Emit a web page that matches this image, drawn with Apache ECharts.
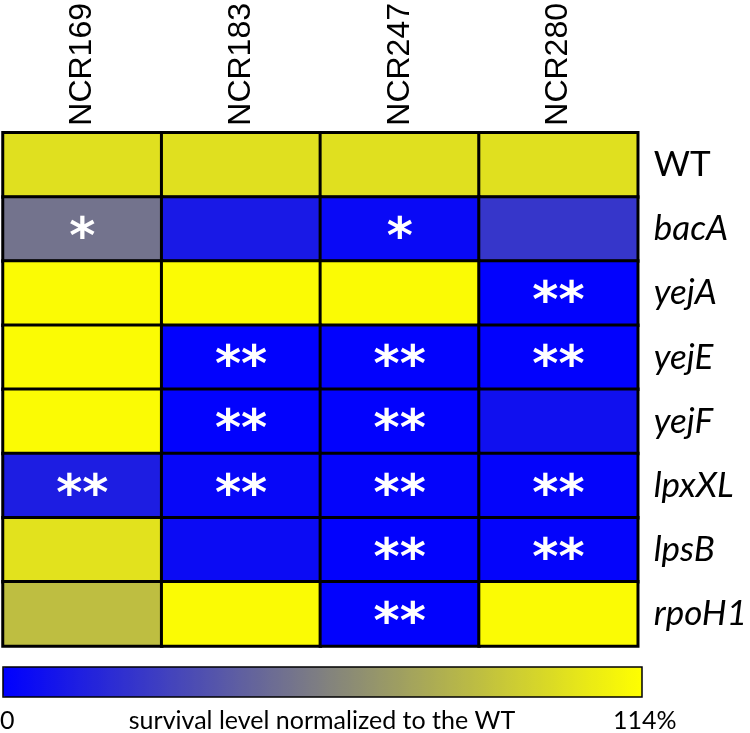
<!DOCTYPE html>
<html>
<head>
<meta charset="utf-8">
<script src="https://cdn.jsdelivr.net/npm/echarts@6/dist/echarts.min.js"></script>
<style>
html,body{margin:0;padding:0;background:#fff;}
#chart{width:750px;height:733px;}
</style>
</head>
<body>
<div id="chart"></div>
<script>
// Column (strain) labels
const strains = ['NCR169', 'NCR183', 'NCR247', 'NCR280'];
// Row (gene) labels
const genes = ['WT', 'bacA', 'yejA', 'yejE', 'yejF', 'lpxXL', 'lpsB', 'rpoH1'];
// survival (% of WT), one array per gene, in strain order
const vWT    = [100, 100, 100, 100];
const vBacA  = [51, 11, 4, 24];
const vYejA  = [112, 112, 112, 1];
const vYejE  = [112, 1, 1, 1];
const vYejF  = [112, 1, 1, 7];
const vLpxXL = [13, 3, 2, 2];
const vLpsB  = [101, 5, 1, 2];
const vRpoH1 = [85, 112, 1, 112];
// significance marks
const sWT    = ['', '', '', ''];
const sBacA  = ['*', '', '*', ''];
const sYejA  = ['', '', '', '**'];
const sYejE  = ['', '**', '**', '**'];
const sYejF  = ['', '**', '**', ''];
const sLpxXL = ['**', '**', '**', '**'];
const sLpsB  = ['', '', '**', '**'];
const sRpoH1 = ['', '', '**', ''];
// colour scale
const scaleMin = 0;
const scaleMax = 114;
const scaleLabels = ['0', 'survival level normalized to the WT', '114%'];

const values = [vWT, vBacA, vYejA, vYejE, vYejF, vLpxXL, vLpsB, vRpoH1];
const stars = [sWT, sBacA, sYejA, sYejE, sYejF, sLpxXL, sLpsB, sRpoH1];
const data = [];
values.forEach((row, y) => row.forEach((v, x) => data.push([x, y, v])));

const chart = echarts.init(document.getElementById('chart'), null, {renderer: 'canvas'});
chart.setOption({
  backgroundColor: '#ffffff',
  animation: false,
  grid: {left: 3, right: 111, top: 132, height: 514, containLabel: false},
  xAxis: {
    type: 'category', data: strains, position: 'top',
    axisLine: {show: false}, axisTick: {show: false}, splitArea: {show: false},
    axisLabel: {
      rotate: -90, margin: 7, color: '#000',
      fontFamily: 'Liberation Sans', fontSize: 32
    }
  },
  yAxis: {
    type: 'category', data: genes, inverse: true, position: 'right',
    axisLine: {show: false}, axisTick: {show: false}, splitArea: {show: false},
    axisLabel: {
      margin: 16, align: 'left',
      formatter: (v) => v === 'WT' ? '{n|' + v + '}' : '{i|' + v + '}',
      rich: {
        n: {fontFamily: 'Lato', fontSize: 35, color: '#000'},
        i: {fontFamily: 'Lato', fontStyle: 'italic', fontSize: 35, color: '#000'}
      }
    }
  },
  visualMap: {
    type: 'continuous', min: scaleMin, max: scaleMax,
    orient: 'horizontal', left: 3, top: 667, padding: 0,
    itemWidth: 30, itemHeight: 639, calculable: false, text: null,
    showLabel: false,
    inRange: {color: ['#0000ff', '#808080', '#ffff00']}
  },
  graphic: [
    {type: 'rect', shape: {x: 3, y: 667, width: 639, height: 30},
     style: {fill: null, stroke: '#000', lineWidth: 1.5}, z: 100},
    {type: 'text', x: 0, y: 708,
     style: {text: scaleLabels[0], font: '25px Lato', fill: '#000'}},
    {type: 'text', x: 322, y: 708,
     style: {text: scaleLabels[1], font: '25px Lato', fill: '#000', textAlign: 'center'}},
    {type: 'text', x: 613, y: 708,
     style: {text: scaleLabels[2], font: '25px Lato', fill: '#000'}}
  ],
  series: [{
    type: 'heatmap', data: data,
    itemStyle: {borderColor: '#000', borderWidth: 3},
    label: {
      show: true, color: '#fff',
      fontFamily: 'DejaVu Sans', fontWeight: 'bold', fontSize: 50,
      offset: [0, 11],
      formatter: (p) => stars[p.data[1]][p.data[0]]
    },
    emphasis: {disabled: true}
  }]
});
</script>
</body>
</html>
